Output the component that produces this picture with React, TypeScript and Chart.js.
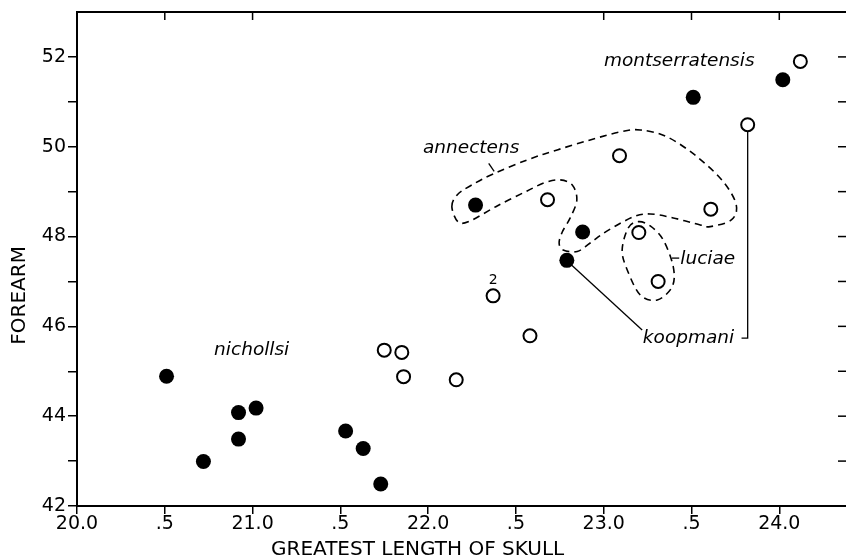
import React, { useEffect, useRef } from "react";
import { Chart, registerables } from "chart.js";

Chart.register(...registerables);

// ---- data ----
const filledX = [20.51, 20.72, 20.92, 20.92, 21.02, 21.53, 21.63, 21.73, 22.27, 22.88, 22.79, 23.51, 24.02];
const filledY = [44.89, 42.99, 44.08, 43.49, 44.18, 43.67, 43.28, 42.49, 48.7, 48.1, 47.47, 51.1, 51.49];

const openX = [21.75, 21.85, 21.86, 22.16, 22.37, 22.58, 22.68, 23.09, 23.2, 23.31, 23.61, 23.82, 24.12];
const openY = [45.47, 45.42, 44.88, 44.81, 46.68, 45.79, 48.82, 49.8, 48.09, 47.0, 48.61, 50.49, 51.9];

const xTickValues = [20, 20.5, 21, 21.5, 22, 22.5, 23, 23.5, 24];
const xTickLabels = ["20.0", ".5", "21.0", ".5", "22.0", ".5", "23.0", ".5", "24.0"];
const yTickLabels = ["42", "44", "46", "48", "50", "52"];
const topTickValues = [20.5, 21.0, 23.0, 23.5, 24.0];
const rightTickValues = [43, 44, 45, 46, 47, 48, 49, 50, 51, 52];

// group outlines (data coordinates)
const annectensX = [22.135, 22.165, 22.239, 22.37, 22.564, 22.735, 22.923, 23.094, 23.208, 23.362, 23.533, 23.681, 23.755, 23.727, 23.607, 23.55, 23.396, 23.265, 23.168, 23.02, 22.923, 22.849, 22.769, 22.746, 22.764, 22.809, 22.847, 22.821, 22.752, 22.667, 22.564, 22.393, 22.239, 22.171];
const annectensY = [48.666, 48.927, 49.127, 49.394, 49.706, 49.929, 50.151, 50.33, 50.374, 50.218, 49.773, 49.22, 48.704, 48.37, 48.221, 48.258, 48.414, 48.503, 48.437, 48.125, 47.857, 47.668, 47.702, 47.857, 48.102, 48.414, 48.815, 49.149, 49.261, 49.205, 49.016, 48.682, 48.347, 48.325];
const luciaeX = [23.197, 23.265, 23.339, 23.396, 23.39, 23.305, 23.208, 23.134, 23.105, 23.14];
const luciaeY = [48.332, 48.236, 47.924, 47.33, 46.884, 46.588, 46.699, 47.256, 47.702, 48.192];

// labels
const groupNames = ["montserratensis", "annectens", "nichollsi", "luciae", "koopmani"];
const groupLabelX = [23.43, 22.245, 20.995, 23.436, 23.223];
const groupLabelY = [51.9, 49.97, 45.47, 47.5, 45.73];
const groupLabelAlign = ["center", "center", "center", "left", "left"];

const countLabel = "2";
const countLabelX = 22.37;
const countLabelY = 47.03;

// leader lines: [x1, y1, x2, y2, ...] polylines
const leaderLines: number[][] = [
  [22.815, 47.37, 23.219, 45.92],
  [23.82, 50.35, 23.82, 45.74, 23.785, 45.74],
  [22.345, 49.63, 22.376, 49.45],
  [23.389, 47.52, 23.43, 47.52],
];

const xTitle = "GREATEST LENGTH OF SKULL";
const yTitle = "FOREARM";

const FONT = "'DejaVu Sans', sans-serif";

function closedCurve(ctx: CanvasRenderingContext2D, pts: { x: number; y: number }[]) {
  const n = pts.length;
  ctx.moveTo(pts[0].x, pts[0].y);
  const t = 1 / 6;
  for (let i = 0; i < n; i++) {
    const p0 = pts[(i - 1 + n) % n];
    const p1 = pts[i];
    const p2 = pts[(i + 1) % n];
    const p3 = pts[(i + 2) % n];
    ctx.bezierCurveTo(
      p1.x + (p2.x - p0.x) * t,
      p1.y + (p2.y - p0.y) * t,
      p2.x - (p3.x - p1.x) * t,
      p2.y - (p3.y - p1.y) * t,
      p2.x,
      p2.y
    );
  }
  ctx.closePath();
}

const decorPlugin = {
  id: "decor",
  beforeDatasetsDraw(chart: any) {
    const { ctx, scales } = chart;
    const xs = scales.x;
    const ys = scales.y;
    ctx.save();
    ctx.strokeStyle = "#000";
    ctx.lineWidth = 1.6;
    ctx.setLineDash([7, 5]);
    const outlines = [
      [annectensX, annectensY],
      [luciaeX, luciaeY],
    ];
    for (const [ox, oy] of outlines) {
      const pts = ox.map((v, i) => ({ x: xs.getPixelForValue(v), y: ys.getPixelForValue(oy[i]) }));
      ctx.beginPath();
      closedCurve(ctx, pts);
      ctx.stroke();
    }
    ctx.setLineDash([]);
    ctx.lineWidth = 1.3;
    for (const line of leaderLines) {
      ctx.beginPath();
      for (let i = 0; i < line.length; i += 2) {
        const px = xs.getPixelForValue(line[i]);
        const py = ys.getPixelForValue(line[i + 1]);
        if (i === 0) ctx.moveTo(px, py);
        else ctx.lineTo(px, py);
      }
      ctx.stroke();
    }
    ctx.restore();
  },
  afterDraw(chart: any) {
    const { ctx, scales, chartArea } = chart;
    const xs = scales.x;
    const ys = scales.y;
    ctx.save();
    ctx.strokeStyle = "#000";
    ctx.fillStyle = "#000";
    // top frame line
    ctx.lineWidth = 2;
    ctx.beginPath();
    ctx.moveTo(chartArea.left, chartArea.top);
    ctx.lineTo(chartArea.right, chartArea.top);
    ctx.stroke();
    // top ticks (inward)
    ctx.lineWidth = 1.5;
    for (const v of topTickValues) {
      const px = xs.getPixelForValue(v);
      ctx.beginPath();
      ctx.moveTo(px, chartArea.top);
      ctx.lineTo(px, chartArea.top + 8);
      ctx.stroke();
    }
    // right ticks
    for (const v of rightTickValues) {
      const py = ys.getPixelForValue(v);
      ctx.beginPath();
      ctx.moveTo(chartArea.right - 8, py);
      ctx.lineTo(chartArea.right, py);
      ctx.stroke();
    }
    // group labels
    ctx.font = `italic 18.5px ${FONT}`;
    ctx.textBaseline = "middle";
    groupNames.forEach((name, i) => {
      ctx.textAlign = groupLabelAlign[i] as CanvasTextAlign;
      ctx.fillText(name, xs.getPixelForValue(groupLabelX[i]), ys.getPixelForValue(groupLabelY[i]));
    });
    ctx.font = `14px ${FONT}`;
    ctx.textAlign = "center";
    ctx.fillText(countLabel, xs.getPixelForValue(countLabelX), ys.getPixelForValue(countLabelY));
    // axis titles
    ctx.font = `20px ${FONT}`;
    ctx.textAlign = "center";
    ctx.textBaseline = "middle";
    ctx.fillText(xTitle, xs.getPixelForValue(21.94), chartArea.bottom + 44);
    ctx.translate(20, ys.getPixelForValue(46.69));
    ctx.rotate(-Math.PI / 2);
    ctx.fillText(yTitle, 0, 0);
    ctx.restore();
  },
};

export default function App() {
  const canvasRef = useRef<HTMLCanvasElement | null>(null);

  useEffect(() => {
    document.body.style.margin = "0";
    const canvas = canvasRef.current;
    if (!canvas) return;
    Chart.defaults.font.family = FONT;
    const chart = new Chart(canvas, {
      type: "scatter",
      data: {
        datasets: [
          {
            label: "filled",
            data: filledX.map((x, i) => ({ x, y: filledY[i] })),
            pointRadius: 7.5,
            pointBackgroundColor: "#000",
            pointBorderColor: "#000",
            pointBorderWidth: 0,
          },
          {
            label: "open",
            data: openX.map((x, i) => ({ x, y: openY[i] })),
            pointRadius: 6.5,
            pointBackgroundColor: "#fff",
            pointBorderColor: "#000",
            pointBorderWidth: 2,
          },
        ],
      },
      options: {
        responsive: false,
        animation: false,
        devicePixelRatio: 1,
        layout: { autoPadding: false, padding: { top: 12, left: 0, right: 0, bottom: 0 } },
        plugins: { legend: { display: false }, tooltip: { enabled: false } },
        scales: {
          x: {
            type: "linear",
            min: 20,
            max: 24.38,
            afterFit: (s: any) => {
              s.height = 53;
              s.paddingLeft = 0;
              s.paddingRight = 0;
            },
            afterBuildTicks: (s: any) => {
              s.ticks = xTickValues.map((v) => ({ value: v }));
            },
            ticks: {
              autoSkip: false,
              maxRotation: 0,
              padding: -1,
              color: "#000",
              font: { size: 19, family: FONT },
              callback: (v: any) => {
                const i = xTickValues.indexOf(Number(v));
                return i >= 0 ? xTickLabels[i] : "";
              },
            },
            grid: { display: true, drawOnChartArea: false, tickLength: 8, color: "#000", lineWidth: 1.5 },
            border: { display: true, color: "#000", width: 2 },
          },
          y: {
            type: "linear",
            min: 42,
            max: 53,
            afterFit: (s: any) => {
              s.width = 77;
              s.paddingTop = 0;
              s.paddingBottom = 0;
            },
            ticks: {
              stepSize: 1,
              autoSkip: false,
              padding: 2,
              color: "#000",
              font: { size: 19, family: FONT },
              callback: (v: any) => {
                const s = String(v);
                return yTickLabels.includes(s) ? s : "";
              },
            },
            grid: {
              display: true,
              drawOnChartArea: false,
              tickLength: 9,
              lineWidth: 1.5,
              color: (c: any) => (c.tick && c.tick.value === 53 ? "rgba(0,0,0,0)" : "#000"),
            },
            border: { display: true, color: "#000", width: 2 },
          },
        },
      },
      plugins: [decorPlugin],
    } as any);
    return () => chart.destroy();
  }, []);

  return (
    <div style={{ width: 846, height: 559 }}>
      <canvas ref={canvasRef} width={846} height={559} style={{ display: "block", width: 846, height: 559 }} />
    </div>
  );
}
